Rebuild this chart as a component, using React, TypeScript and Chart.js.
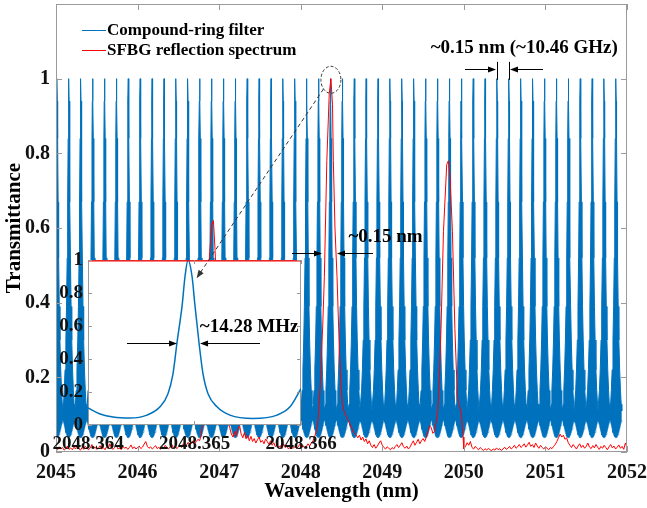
import React, { useEffect, useRef } from "react";
import { Chart, registerables } from "chart.js";

Chart.register(...registerables);

const FONT = '"Liberation Serif", "Times New Roman", serif';
const BLUE = "rgb(0,114,189)";
const RED = "#ff0000";
const BOX = "#9a9a9a";
const INK = "#111111";

// ---------- main axes ----------
const xTicks = [2045, 2046, 2047, 2048, 2049, 2050, 2051, 2052];
const xTickLabels = ["2045", "2046", "2047", "2048", "2049", "2050", "2051", "2052"];
const yTicks = [0, 0.2, 0.4, 0.6, 0.8, 1];
const yTickLabels = ["0", "0.2", "0.4", "0.6", "0.8", "1"];

// ---------- compound-ring filter (peak centres) ----------
const filterPeaks = [
  2045.012, 2045.157, 2045.303, 2045.449, 2045.595, 2045.741, 2045.886, 2046.032,
  2046.178, 2046.324, 2046.47, 2046.615, 2046.761, 2046.907, 2047.053, 2047.199,
  2047.344, 2047.49, 2047.636, 2047.782, 2047.928, 2048.073, 2048.219, 2048.365,
  2048.511, 2048.657, 2048.802, 2048.948, 2049.094, 2049.24, 2049.386, 2049.531,
  2049.677, 2049.823, 2049.969, 2050.115, 2050.26, 2050.406, 2050.552, 2050.698,
  2050.844, 2050.989, 2051.135, 2051.281, 2051.427, 2051.573, 2051.718, 2051.864,
];
// line shape around each resonance: offset from centre (nm), upper and lower envelope
const profileOffsets = [0, 0.004, 0.008, 0.014, 0.02, 0.028, 0.036, 0.046, 0.056, 0.065, 0.0725];
const profileUpper = [1.0, 0.94, 0.84, 0.67, 0.52, 0.39, 0.3, 0.22, 0.165, 0.128, 0.11];
const profileLower = [0.038, 0.038, 0.039, 0.04, 0.042, 0.046, 0.052, 0.061, 0.071, 0.08, 0.086];

// ---------- SFBG reflection spectrum ----------
const sfbgSpectrum: [number, number][] = [
  [2045.0, 0.01], [2045.02, 0.006], [2045.04, 0.014], [2045.06, 0.008], [2045.08, 0.012],
  [2045.1, 0.005], [2045.12, 0.009], [2045.14, 0.016], [2045.16, 0.007], [2045.18, 0.011],
  [2045.2, 0.006], [2045.22, 0.013], [2045.24, 0.008], [2045.26, 0.018], [2045.28, 0.009],
  [2045.3, 0.005], [2045.32, 0.012], [2045.34, 0.007], [2045.36, 0.015], [2045.38, 0.01],
  [2045.4, 0.006], [2045.42, 0.011], [2045.44, 0.02], [2045.46, 0.009], [2045.48, 0.013],
  [2045.5, 0.007], [2045.52, 0.01], [2045.54, 0.017], [2045.56, 0.008], [2045.58, 0.012],
  [2045.6, 0.006], [2045.62, 0.014], [2045.64, 0.009], [2045.66, 0.022], [2045.68, 0.011],
  [2045.7, 0.007], [2045.72, 0.013], [2045.74, 0.018], [2045.76, 0.008], [2045.78, 0.011],
  [2045.8, 0.006], [2045.82, 0.015], [2045.84, 0.01], [2045.86, 0.013], [2045.88, 0.007],
  [2045.9, 0.012], [2045.92, 0.019], [2045.94, 0.009], [2045.96, 0.014], [2045.98, 0.008],
  [2046.0, 0.012], [2046.02, 0.016], [2046.04, 0.009], [2046.06, 0.013], [2046.08, 0.021],
  [2046.1, 0.028], [2046.12, 0.015], [2046.14, 0.01], [2046.16, 0.014], [2046.18, 0.008],
  [2046.2, 0.012], [2046.22, 0.017], [2046.24, 0.009], [2046.26, 0.013], [2046.28, 0.007],
  [2046.3, 0.015], [2046.32, 0.01], [2046.34, 0.018], [2046.36, 0.012], [2046.38, 0.008],
  [2046.4, 0.014], [2046.42, 0.02], [2046.44, 0.011], [2046.46, 0.016], [2046.48, 0.009],
  [2046.5, 0.013], [2046.52, 0.018], [2046.54, 0.012], [2046.56, 0.022], [2046.58, 0.015],
  [2046.6, 0.019], [2046.62, 0.026], [2046.64, 0.018], [2046.66, 0.024], [2046.68, 0.03],
  [2046.7, 0.022], [2046.72, 0.028], [2046.74, 0.034], [2046.76, 0.03], [2046.78, 0.045],
  [2046.8, 0.09], [2046.84, 0.28], [2046.88, 0.52], [2046.91, 0.61], [2046.93, 0.62],
  [2046.95, 0.54], [2046.99, 0.33], [2047.04, 0.18], [2047.09, 0.1], [2047.13, 0.065],
  [2047.15, 0.048], [2047.17, 0.04], [2047.19, 0.055], [2047.21, 0.042], [2047.23, 0.062],
  [2047.25, 0.07], [2047.27, 0.048], [2047.29, 0.038], [2047.31, 0.052], [2047.33, 0.035],
  [2047.35, 0.045], [2047.37, 0.03], [2047.39, 0.042], [2047.41, 0.028], [2047.43, 0.036],
  [2047.45, 0.024], [2047.47, 0.033], [2047.49, 0.04], [2047.51, 0.026], [2047.53, 0.031],
  [2047.55, 0.022], [2047.57, 0.035], [2047.59, 0.028], [2047.61, 0.02], [2047.63, 0.03],
  [2047.65, 0.018], [2047.67, 0.025], [2047.69, 0.014], [2047.71, 0.02], [2047.73, 0.011],
  [2047.75, 0.017], [2047.77, 0.009], [2047.79, 0.022], [2047.81, 0.012], [2047.83, 0.016],
  [2047.85, 0.008], [2047.87, 0.013], [2047.89, 0.019], [2047.91, 0.01], [2047.93, 0.015],
  [2047.95, 0.009], [2047.97, 0.014], [2047.99, 0.021], [2048.01, 0.012], [2048.03, 0.017],
  [2048.05, 0.01], [2048.07, 0.015], [2048.09, 0.022], [2048.11, 0.016], [2048.13, 0.024],
  [2048.15, 0.03], [2048.17, 0.04], [2048.19, 0.055], [2048.21, 0.08], [2048.24, 0.18],
  [2048.27, 0.34], [2048.29, 0.47], [2048.32, 0.78], [2048.35, 0.96], [2048.37, 1.0],
  [2048.39, 0.93], [2048.4, 0.78], [2048.42, 0.6], [2048.445, 0.47], [2048.47, 0.3],
  [2048.49, 0.19], [2048.51, 0.13], [2048.53, 0.11], [2048.56, 0.095], [2048.59, 0.08],
  [2048.62, 0.067], [2048.65, 0.052], [2048.68, 0.045], [2048.7, 0.038], [2048.72, 0.045],
  [2048.74, 0.032], [2048.76, 0.04], [2048.78, 0.028], [2048.8, 0.035], [2048.82, 0.022],
  [2048.84, 0.03], [2048.86, 0.018], [2048.88, 0.012], [2048.9, 0.02], [2048.92, 0.01],
  [2048.94, 0.016], [2048.96, 0.024], [2048.98, 0.03], [2049.0, 0.018], [2049.02, 0.012],
  [2049.04, 0.008], [2049.06, 0.014], [2049.08, 0.01], [2049.1, 0.006], [2049.12, 0.012],
  [2049.14, 0.008], [2049.16, 0.015], [2049.18, 0.02], [2049.2, 0.012], [2049.22, 0.018],
  [2049.24, 0.025], [2049.26, 0.014], [2049.28, 0.01], [2049.3, 0.016], [2049.32, 0.008],
  [2049.34, 0.013], [2049.36, 0.022], [2049.38, 0.03], [2049.4, 0.018], [2049.42, 0.026],
  [2049.44, 0.034], [2049.46, 0.022], [2049.48, 0.03], [2049.5, 0.036], [2049.52, 0.028],
  [2049.54, 0.04], [2049.56, 0.055], [2049.58, 0.07], [2049.6, 0.065], [2049.62, 0.05],
  [2049.64, 0.055], [2049.66, 0.08], [2049.68, 0.11], [2049.7, 0.2], [2049.72, 0.33],
  [2049.75, 0.59], [2049.79, 0.77], [2049.81, 0.78], [2049.83, 0.74], [2049.86, 0.59],
  [2049.89, 0.33], [2049.92, 0.15], [2049.935, 0.13], [2049.95, 0.12], [2049.97, 0.1],
  [2049.99, 0.04], [2050.0, 0.008], [2050.02, 0.015], [2050.04, 0.025], [2050.06, 0.018],
  [2050.08, 0.028], [2050.1, 0.012], [2050.12, 0.008], [2050.14, 0.015], [2050.16, 0.01],
  [2050.18, 0.006], [2050.2, 0.012], [2050.22, 0.008], [2050.24, 0.004], [2050.26, 0.009],
  [2050.28, 0.005], [2050.3, 0.01], [2050.32, 0.006], [2050.34, 0.004], [2050.36, 0.008],
  [2050.38, 0.005], [2050.4, 0.011], [2050.42, 0.006], [2050.44, 0.009], [2050.46, 0.004],
  [2050.48, 0.008], [2050.5, 0.013], [2050.52, 0.007], [2050.54, 0.01], [2050.56, 0.015],
  [2050.58, 0.008], [2050.6, 0.012], [2050.62, 0.018], [2050.64, 0.01], [2050.66, 0.014],
  [2050.68, 0.02], [2050.7, 0.012], [2050.72, 0.016], [2050.74, 0.022], [2050.76, 0.013],
  [2050.78, 0.019], [2050.8, 0.026], [2050.82, 0.015], [2050.84, 0.02], [2050.86, 0.012],
  [2050.88, 0.024], [2050.9, 0.016], [2050.92, 0.01], [2050.94, 0.018], [2050.96, 0.012],
  [2050.98, 0.008], [2051.0, 0.014], [2051.02, 0.01], [2051.04, 0.006], [2051.06, 0.012],
  [2051.08, 0.009], [2051.1, 0.015], [2051.12, 0.02], [2051.14, 0.028], [2051.16, 0.038],
  [2051.18, 0.048], [2051.2, 0.04], [2051.22, 0.045], [2051.24, 0.034], [2051.26, 0.038],
  [2051.28, 0.025], [2051.3, 0.018], [2051.32, 0.012], [2051.34, 0.02], [2051.36, 0.014],
  [2051.38, 0.008], [2051.4, 0.016], [2051.42, 0.022], [2051.44, 0.012], [2051.46, 0.018],
  [2051.48, 0.01], [2051.5, 0.015], [2051.52, 0.024], [2051.54, 0.013], [2051.56, 0.009],
  [2051.58, 0.017], [2051.6, 0.011], [2051.62, 0.02], [2051.64, 0.013], [2051.66, 0.007],
  [2051.68, 0.015], [2051.7, 0.01], [2051.72, 0.018], [2051.74, 0.012], [2051.76, 0.006],
  [2051.78, 0.014], [2051.8, 0.02], [2051.82, 0.011], [2051.84, 0.016], [2051.86, 0.008],
  [2051.88, 0.013], [2051.9, 0.019], [2051.92, 0.01], [2051.94, 0.015], [2051.96, 0.007],
  [2051.98, 0.024], [2052.0, 0.012],
];

// ---------- inset (zoom on one resonance) ----------
const insetXTicks = [2048.364, 2048.365, 2048.366];
const insetXTickLabels = ["2048.364", "2048.365", "2048.366"];
const insetYTicks = [0, 0.2, 0.4, 0.6, 0.8, 1];
const insetYTickLabels = ["0", "0.2", "0.4", "0.6", "0.8", "1"];
const insetFilterX = [
  2048.364, 2048.364113, 2048.364235, 2048.364394, 2048.364554, 2048.364676, 2048.364751,
  2048.364798, 2048.364836, 2048.364883, 2048.364911, 2048.364939, 2048.364977, 2048.365005,
  2048.365042, 2048.36508, 2048.365127, 2048.365211, 2048.365333, 2048.365549, 2048.365775,
  2048.365897, 2048.366,
];
const insetFilterY = [
  0.103, 0.067, 0.048, 0.042, 0.06, 0.11, 0.19, 0.31, 0.5, 0.72, 0.9, 1.0, 0.9, 0.72, 0.5,
  0.31, 0.19, 0.11, 0.06, 0.04, 0.06, 0.11, 0.22,
];
const insetSfbgX = [2048.364, 2048.366];
const insetSfbgY = [0.995, 0.995];

// ---------- annotation anchors (data units) ----------
const topNote = { text: "~0.15 nm (~10.46 GHz)", x: 2050.74, y: 1.082 };
const topArrowY = 1.026;
const topBarY = [0.997, 1.045];
const topArrowL = [2050.014, 2050.394];
const topArrowR = [2050.97, 2050.566];
const sfbgNote = { text: "~0.15 nm", x: 2049.04, y: 0.576 };
const sfbgArrowY = 0.533;
const sfbgArrowL = [2047.893, 2048.261];
const sfbgArrowR = [2048.886, 2048.445];
const zoomCircle = { x: 2048.37, y: 0.997 };
const zoomTip = { x: 2048.36502, y: 0.89 };
const mhzNote = { text: "~14.28 MHz", x: 2048.36505, y: 0.594 };
const mhzArrowY = 0.5;
const mhzArrowL = [2048.364366, 2048.364836];
const mhzArrowR = [2048.365615, 2048.365052];

const mainChartRef: { current: any } = { current: null };

function buildFilter() {
  const upper: any[] = [];
  const lower: any[] = [];
  const n = profileOffsets.length;
  for (const p of filterPeaks) {
    for (let i = n - 1; i >= 1; i--) {
      upper.push({ x: p - profileOffsets[i], y: profileUpper[i] });
      lower.push({ x: p - profileOffsets[i], y: profileLower[i] });
    }
    for (let i = 0; i < n; i++) {
      upper.push({ x: p + profileOffsets[i], y: profileUpper[i] });
      lower.push({ x: p + profileOffsets[i], y: profileLower[i] });
    }
  }
  return { upper, lower };
}

function arrow(ctx: CanvasRenderingContext2D, x1: number, y1: number, x2: number, y2: number, head = 8, half = 3) {
  const a = Math.atan2(y2 - y1, x2 - x1);
  const c = Math.cos(a), s = Math.sin(a);
  ctx.beginPath();
  ctx.moveTo(x1, y1);
  ctx.lineTo(x2 - head * 0.7 * c, y2 - head * 0.7 * s);
  ctx.stroke();
  ctx.beginPath();
  ctx.moveTo(x2, y2);
  ctx.lineTo(x2 - head * c + half * s, y2 - head * s - half * c);
  ctx.lineTo(x2 - head * c - half * s, y2 - head * s + half * c);
  ctx.closePath();
  ctx.fill();
}

function seg(ctx: CanvasRenderingContext2D, x1: number, y1: number, x2: number, y2: number) {
  ctx.beginPath();
  ctx.moveTo(x1, y1);
  ctx.lineTo(x2, y2);
  ctx.stroke();
}

function noScalePad(s: any) {
  s.paddingTop = 0;
  s.paddingBottom = 0;
  s.paddingLeft = 0;
  s.paddingRight = 0;
}

const mainDecor = {
  id: "mainDecor",
  afterDraw(chart: any) {
    const { ctx, chartArea: a } = chart;
    const X = chart.scales.x, Y = chart.scales.y;
    ctx.save();
    // box
    ctx.strokeStyle = BOX;
    ctx.lineWidth = 1;
    ctx.strokeRect(a.left + 0.5, a.top + 0.5, a.right - a.left - 1, a.bottom - a.top - 1);
    // inward ticks
    for (const v of xTicks) {
      const px = Math.round(X.getPixelForValue(v)) + 0.5;
      seg(ctx, px, a.bottom, px, a.bottom - 6);
      seg(ctx, px, a.top, px, a.top + 6);
    }
    for (const v of yTicks) {
      const py = Math.round(Y.getPixelForValue(v)) + 0.5;
      seg(ctx, a.left, py, a.left + 6, py);
      seg(ctx, a.right, py, a.right - 6, py);
    }
    // legend
    ctx.lineWidth = 1;
    ctx.strokeStyle = BLUE;
    seg(ctx, a.left + 26, a.top + 26.5, a.left + 50, a.top + 26.5);
    ctx.strokeStyle = RED;
    seg(ctx, a.left + 26, a.top + 46.5, a.left + 50, a.top + 46.5);
    ctx.fillStyle = "#000";
    ctx.font = `bold 17px ${FONT}`;
    ctx.textAlign = "left";
    ctx.textBaseline = "middle";
    ctx.fillText("Compound-ring filter", a.left + 51, a.top + 27);
    ctx.fillText("SFBG reflection spectrum", a.left + 51, a.top + 47);
    // axis titles
    ctx.font = `bold 21px ${FONT}`;
    ctx.textAlign = "center";
    ctx.fillText("Wavelength (nm)", (a.left + a.right) / 2, 492);
    ctx.save();
    ctx.translate(15, (a.top + a.bottom) / 2);
    ctx.rotate(-Math.PI / 2);
    ctx.fillText("Transmittance", 0, 0);
    ctx.restore();
    // annotations
    ctx.font = `bold 19px ${FONT}`;
    ctx.fillText(topNote.text, X.getPixelForValue(topNote.x), Y.getPixelForValue(topNote.y));
    ctx.fillText(sfbgNote.text, X.getPixelForValue(sfbgNote.x), Y.getPixelForValue(sfbgNote.y));
    ctx.strokeStyle = "#000";
    ctx.fillStyle = "#000";
    ctx.lineWidth = 1;
    for (const i of [37, 38]) {
      const px = Math.round(X.getPixelForValue(filterPeaks[i])) + 0.5;
      seg(ctx, px, Y.getPixelForValue(topBarY[0]), px, Y.getPixelForValue(topBarY[1]));
    }
    const ty = Math.round(Y.getPixelForValue(topArrowY)) + 0.5;
    arrow(ctx, X.getPixelForValue(topArrowL[0]), ty, X.getPixelForValue(topArrowL[1]), ty);
    arrow(ctx, X.getPixelForValue(topArrowR[0]), ty, X.getPixelForValue(topArrowR[1]), ty);
    const sy = Math.round(Y.getPixelForValue(sfbgArrowY)) + 0.5;
    arrow(ctx, X.getPixelForValue(sfbgArrowL[0]), sy, X.getPixelForValue(sfbgArrowL[1]), sy);
    arrow(ctx, X.getPixelForValue(sfbgArrowR[0]), sy, X.getPixelForValue(sfbgArrowR[1]), sy);
    // dashed ellipse around the peak
    ctx.strokeStyle = "#333";
    ctx.setLineDash([3, 2]);
    ctx.beginPath();
    ctx.ellipse(X.getPixelForValue(zoomCircle.x), Y.getPixelForValue(zoomCircle.y), 10, 13.5, 0, 0, Math.PI * 2);
    ctx.stroke();
    ctx.setLineDash([]);
    ctx.restore();
  },
};

const insetDecor = {
  id: "insetDecor",
  beforeDatasetsDraw(chart: any) {
    const { ctx, chartArea: a } = chart;
    ctx.save();
    ctx.fillStyle = "#fff";
    ctx.fillRect(a.left, a.top, a.right - a.left, a.bottom - a.top);
    ctx.strokeStyle = BOX;
    ctx.lineWidth = 1;
    ctx.strokeRect(a.left + 0.5, a.top + 0.5, a.right - a.left - 1, a.bottom - a.top - 1);
    ctx.restore();
  },
  afterDraw(chart: any) {
    const { ctx, chartArea: a } = chart;
    const X = chart.scales.x, Y = chart.scales.y;
    ctx.save();
    ctx.strokeStyle = BOX;
    ctx.lineWidth = 1;
    for (const v of insetXTicks) {
      const px = Math.round(X.getPixelForValue(v)) + 0.5;
      seg(ctx, px, a.bottom, px, a.bottom - 4);
      seg(ctx, px, a.top, px, a.top + 4);
    }
    for (const v of insetYTicks) {
      const py = Math.round(Y.getPixelForValue(v)) + 0.5;
      seg(ctx, a.left, py, a.left + 4, py);
      seg(ctx, a.right, py, a.right - 4, py);
    }
    ctx.fillStyle = "#000";
    ctx.strokeStyle = "#000";
    ctx.font = `bold 19px ${FONT}`;
    ctx.textAlign = "left";
    ctx.textBaseline = "middle";
    ctx.fillText(mhzNote.text, X.getPixelForValue(mhzNote.x), Y.getPixelForValue(mhzNote.y));
    const my = Math.round(Y.getPixelForValue(mhzArrowY)) + 0.5;
    arrow(ctx, X.getPixelForValue(mhzArrowL[0]), my, X.getPixelForValue(mhzArrowL[1]), my);
    arrow(ctx, X.getPixelForValue(mhzArrowR[0]), my, X.getPixelForValue(mhzArrowR[1]), my);
    // dashed pointer from the circled main peak to the zoomed resonance
    const main = mainChartRef.current;
    if (main) {
      const cx = main.scales.x.getPixelForValue(zoomCircle.x);
      const cy = main.scales.y.getPixelForValue(zoomCircle.y);
      const sx = cx + 10 * Math.cos(2.4);
      const sy = cy + 13.5 * Math.sin(2.4);
      const ex = X.getPixelForValue(zoomTip.x);
      const ey = Y.getPixelForValue(zoomTip.y);
      ctx.strokeStyle = "#333";
      ctx.fillStyle = "#333";
      ctx.setLineDash([4, 3]);
      const ang = Math.atan2(ey - sy, ex - sx);
      seg(ctx, sx, sy, ex - 7 * Math.cos(ang), ey - 7 * Math.sin(ang));
      ctx.setLineDash([]);
      arrow(ctx, ex - 8 * Math.cos(ang), ey - 8 * Math.sin(ang), ex, ey, 8, 3);
    }
    ctx.restore();
  },
};

function tickFont(size: number) {
  return { family: FONT, size, weight: "bold" as const };
}

export default function App() {
  const mainCanvas = useRef<HTMLCanvasElement>(null);
  const insetCanvas = useRef<HTMLCanvasElement>(null);

  useEffect(() => {
    const { upper, lower } = buildFilter();
    const sfbg = sfbgSpectrum.map(([x, y]) => ({ x, y }));

    const main = new Chart(mainCanvas.current as HTMLCanvasElement, {
      type: "line",
      data: {
        datasets: [
          { label: "SFBG reflection spectrum", data: sfbg, borderColor: RED, borderWidth: 1, pointRadius: 0, fill: false, tension: 0 },
          { label: "Compound-ring filter", data: upper, borderColor: BLUE, backgroundColor: BLUE, borderWidth: 1, pointRadius: 0, fill: "+1", tension: 0 },
          { label: "_lower", data: lower, borderColor: BLUE, borderWidth: 0.5, pointRadius: 0, fill: false, tension: 0 },
        ],
      } as any,
      options: {
        responsive: false,
        animation: false,
        devicePixelRatio: 1,
        events: [],
        layout: { padding: { top: 4, right: 20, left: 0, bottom: 0 } },
        plugins: { legend: { display: false }, tooltip: { enabled: false } },
        scales: {
          x: {
            type: "linear",
            min: 2045,
            max: 2052,
            afterBuildTicks: (s: any) => { s.ticks = xTicks.map((v) => ({ value: v })); },
            afterFit: (s: any) => { s.height = 56; noScalePad(s); },
            grid: { display: false, drawTicks: false },
            border: { display: false },
            ticks: { font: tickFont(20), color: INK, padding: 9, maxRotation: 0, autoSkip: false, callback: (_v: any, i: number) => xTickLabels[i] },
          },
          y: {
            type: "linear",
            min: 0,
            max: 1.2,
            afterBuildTicks: (s: any) => { s.ticks = yTicks.map((v) => ({ value: v })); },
            afterFit: (s: any) => { s.width = 56; noScalePad(s); },
            grid: { display: false, drawTicks: false },
            border: { display: false },
            ticks: { font: tickFont(20), color: INK, padding: 6, autoSkip: false, callback: (_v: any, i: number) => yTickLabels[i] },
          },
        },
      } as any,
      plugins: [mainDecor],
    });
    mainChartRef.current = main;

    const insetFilter = insetFilterX.map((x, i) => ({ x, y: insetFilterY[i] }));
    const insetSfbg = insetSfbgX.map((x, i) => ({ x, y: insetSfbgY[i] }));

    const inset = new Chart(insetCanvas.current as HTMLCanvasElement, {
      type: "line",
      data: {
        datasets: [
          { label: "SFBG", data: insetSfbg, borderColor: RED, borderWidth: 1.2, pointRadius: 0, fill: false },
          { label: "filter", data: insetFilter, borderColor: BLUE, borderWidth: 1.5, pointRadius: 0, fill: false, cubicInterpolationMode: "monotone" },
        ],
      } as any,
      options: {
        responsive: false,
        animation: false,
        devicePixelRatio: 1,
        events: [],
        layout: { padding: { top: 260, right: 346, left: 0, bottom: 0 } },
        plugins: { legend: { display: false }, tooltip: { enabled: false } },
        scales: {
          x: {
            type: "linear",
            min: 2048.364,
            max: 2048.366,
            afterBuildTicks: (s: any) => { s.ticks = insetXTicks.map((v) => ({ value: v })); },
            afterFit: (s: any) => { s.height = 83; noScalePad(s); },
            grid: { display: false, drawTicks: false },
            border: { display: false },
            ticks: { font: tickFont(19), color: INK, padding: 8, maxRotation: 0, autoSkip: false, callback: (_v: any, i: number) => insetXTickLabels[i] },
          },
          y: {
            type: "linear",
            min: 0,
            max: 1,
            afterBuildTicks: (s: any) => { s.ticks = insetYTicks.map((v) => ({ value: v })); },
            afterFit: (s: any) => { s.width = 88; noScalePad(s); },
            grid: { display: false, drawTicks: false },
            border: { display: false },
            ticks: { font: tickFont(19), color: INK, padding: 5, autoSkip: false, callback: (_v: any, i: number) => insetYTickLabels[i] },
          },
        },
      } as any,
      plugins: [insetDecor],
    });

    return () => {
      inset.destroy();
      main.destroy();
      mainChartRef.current = null;
    };
  }, []);

  return (
    <div style={{ position: "fixed", left: 0, top: 0, width: 647, height: 508, background: "#fff" }}>
      <canvas ref={mainCanvas} width={647} height={508} style={{ position: "absolute", left: 0, top: 0, width: 647, height: 508 }} />
      <canvas ref={insetCanvas} width={647} height={508} style={{ position: "absolute", left: 0, top: 0, width: 647, height: 508, pointerEvents: "none" }} />
    </div>
  );
}
